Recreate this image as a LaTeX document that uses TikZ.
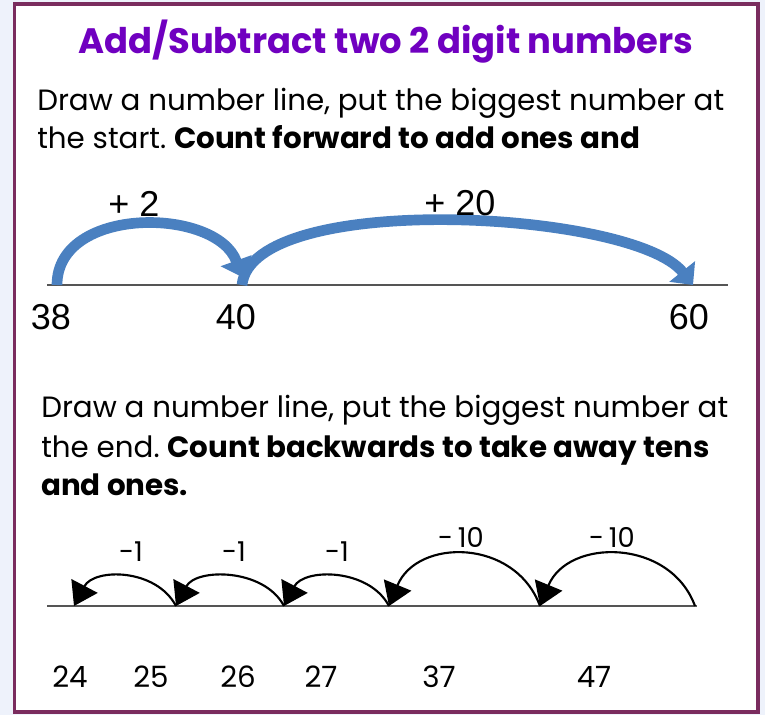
\documentclass[tikz,border=0pt]{standalone}
\usepackage{fontspec}
\setmainfont{Poppins}
\newfontfamily\arialfont{Liberation Sans}
\usetikzlibrary{arrows.meta,positioning}
\definecolor{pagebg}{RGB}{238,242,251}
\definecolor{framepurple}{RGB}{122,44,94}
\definecolor{titlepurple}{RGB}{112,0,192}
\definecolor{arcblue}{RGB}{74,128,192}
\definecolor{linegray}{RGB}{85,85,85}
\frenchspacing

\begin{document}
\begin{tikzpicture}[x=0.75pt,y=-0.75pt,
  txt/.style={anchor=base west, inner sep=0pt, font=\fontsize{22}{26}\selectfont},
  ttl/.style={anchor=base, inner sep=0pt, text=titlepurple,
    font=\fontsize{26.5}{30}\selectfont\bfseries},
  num/.style={inner sep=0pt, font=\arialfont\fontsize{27}{30}\selectfont},
  addlbl/.style={inner sep=0pt, font=\arialfont\fontsize{27}{30}\selectfont},
  cnum/.style={inner sep=0pt, font=\fontsize{22}{26}\selectfont},
  sublbl/.style={inner sep=0pt, font=\fontsize{20.5}{24}\selectfont},
  barr/.style={-{Triangle[length=13pt,width=24pt]}, line width=8pt, arcblue},
  karr/.style={-{Triangle[length=17pt,width=22pt]}, line width=1.6pt, black}
]
% page and frame
\fill[pagebg] (0,0) rectangle (765,715);
\draw[framepurple, line width=2.3pt, fill=white] (14.5,4) rectangle (758,712);

\node[ttl] (title) at (386,53) {Add/Subtract two 2 digit numbers};

% adding on a number line
\node[txt] (add1) at (37,110) {Draw a number line, put the biggest number at};
\node[txt] (add2) at (37,148) {the start. \textbf{Count forward to add ones and}};

\coordinate (n38) at (57,285);
\coordinate (n40) at (242,285);
\coordinate (n60) at (693,285);
\coordinate (topL) at (47,285);
\coordinate (topR) at (728,285);
\draw[linegray, line width=1.1pt] (topL) -- (topR);

\draw[barr] (n38) .. controls +(0,-80) and +(-25,-70) .. ([yshift=6pt]n40);
\draw[barr] (n40) .. controls +(10,-95) and +(-60,-75) .. (n60);

\node[addlbl] (plus2) at (134,204) {+\ 2};
\node[addlbl] (plus20) at (460,203) {+\ 20};

\node[num] (l38) at (51,317) {38};
\node[num] (l40) at (236,317) {40};
\node[num] (l60) at (689,317) {60};

% taking away on a number line
\node[txt] (sub1) at (41,417) {Draw a number line, put the biggest number at};
\node[txt] (sub2) at (41,457) {the end. \textbf{Count backwards to take away tens}};
\node[txt] (sub3) at (41,495) {\textbf{and ones.}};

\coordinate (m24) at (74,606);
\coordinate (m25) at (176,606);
\coordinate (m26) at (284,606);
\coordinate (m27) at (389,606);
\coordinate (m37) at (540,606);
\coordinate (m47) at (695,606);
\coordinate (botL) at (47,606);
\coordinate (botR) at (697,606);
\draw[linegray, line width=2.2pt] (botL) -- (botR);

\draw[karr] (m25) .. controls +(-20,-38) and +(20,-38) .. (m24);
\draw[karr] (m26) .. controls +(-20,-38) and +(20,-38) .. (m25);
\draw[karr] (m27) .. controls +(-20,-38) and +(20,-38) .. (m26);
\draw[karr] (m37) .. controls +(-25,-68) and +(28,-68) .. (m27);
\draw[karr] (m47) .. controls +(-25,-68) and +(28,-68) .. (m37);

\node[sublbl] (s1) at (131,552) {-1};
\node[sublbl] (s2) at (234,552) {-1};
\node[sublbl] (s3) at (337,552) {-1};
\node[sublbl] (s4) at (461,537) {-\,10};
\node[sublbl] (s5) at (612,537) {-\,10};

\node[cnum] (l24) at (70,677) {24};
\node[cnum] (l25) at (151,677) {25};
\node[cnum] (l26) at (238,677) {26};
\node[cnum] (l27) at (321,677) {27};
\node[cnum] (l37) at (439,677) {37};
\node[cnum] (l47) at (594,677) {47};
\end{tikzpicture}
\end{document}
